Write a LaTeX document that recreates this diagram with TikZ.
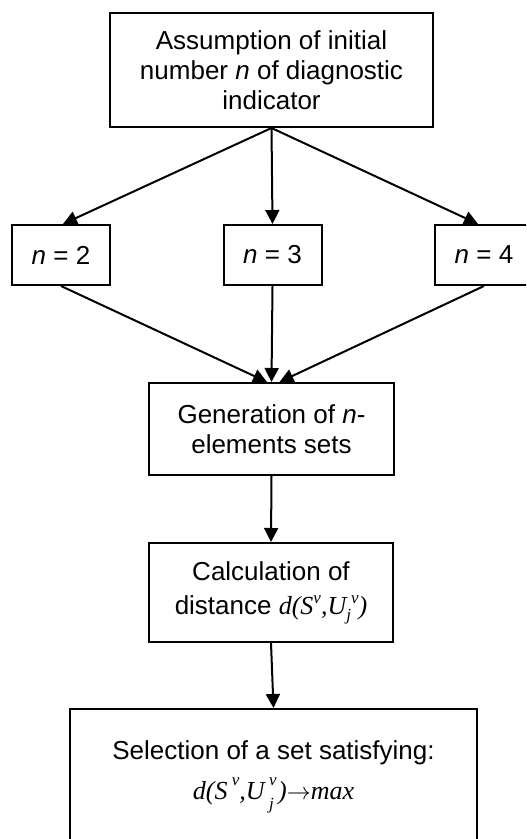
\documentclass[tikz,border=0pt]{standalone}
\usepackage{fontspec}
\setmainfont{Liberation Sans}
\newfontfamily\tnr{Liberation Serif}
\usetikzlibrary{arrows.meta}

% raised and lowered indices in text mode
\newcommand{\idxup}[2]{\raisebox{#1}{\fontsize{8.5}{9}\selectfont #2}}

\begin{document}
\begin{tikzpicture}[
    x=0.5pt, y=-0.5pt,
    box/.style={rectangle, draw, line width=1pt, inner sep=0pt, align=center,
                font=\fontsize{13}{15}\selectfont},
    choice/.style={box, minimum width=49pt, minimum height=30pt},
    arrow/.style={-{Triangle[length=7pt,width=7pt]}, line width=1pt},
]
\clip (0,0) rectangle (526,839);

% Start
\node[box, minimum width=161.5pt, minimum height=57pt] (init) at (271.5,70)
    {Assumption of initial\\number \textit{n} of diagnostic\\indicator};

% Choices of n
\node[choice] (n2) at (61,255)  {\textit{n} = 2};
\node[choice] (n3) at (272.5,255) {\textit{n} = 3};
\node[choice] (n4) at (484,255) {\textit{n} = 4};

% Steps
\node[box, minimum width=122.5pt, minimum height=46pt] (gen) at (271.5,429)
    {Generation of \textit{n}-\\elements sets};
\node[box, minimum width=122pt, minimum height=49.5pt] (calc) at (271,592.5)
    {Calculation of\\[2pt]distance {\tnr\itshape d(S\idxup{5.5pt}{v},U\idxup{-3pt}{j}\idxup{5.5pt}{v})}};
\node[box, minimum width=203.5pt, minimum height=68pt] (sel) at (273.5,777)
    {Selection of a set satisfying:\\[5pt]
     {\tnr\itshape d(S\,\idxup{7pt}{v},U\,\rlap{\idxup{7pt}{v}}\idxup{-5pt}{j}\,)$\rightarrow$max}};

% Connectors
\draw[arrow] (init.south) -- ([xshift=1pt]n2.north);
\draw[arrow] (init.south) -- (n3.north);
\draw[arrow] (init.south) -- ([xshift=-3pt]n4.north);
\draw[arrow] (n2.south) -- ([xshift=-2.25pt]gen.north);
\draw[arrow] (n3.south) -- (gen.north);
\draw[arrow] (n4.south) -- ([xshift=4pt]gen.north);
\draw[arrow] (gen.south) -- (calc.north);
\draw[arrow] (calc.south) -- (sel.north);
\end{tikzpicture}
\end{document}
